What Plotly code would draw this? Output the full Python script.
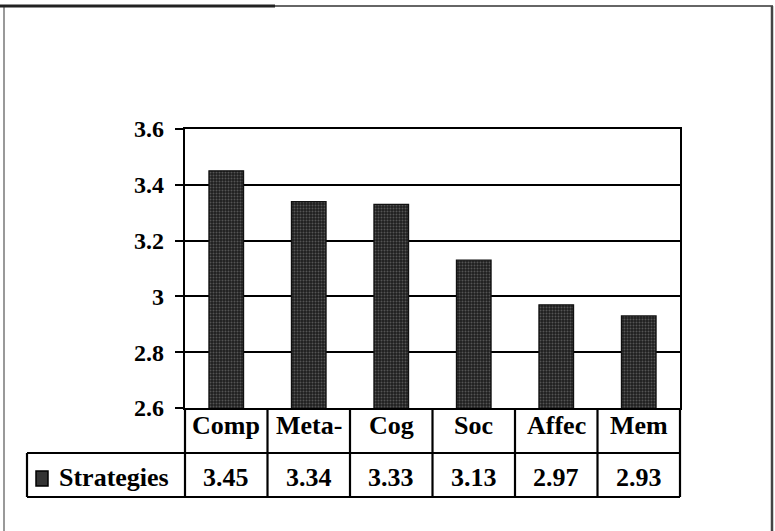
import plotly.graph_objects as go

# Mean strategy-use scores
categories = ["Comp", "Meta-", "Cog", "Soc", "Affec", "Mem"]
values = [3.45, 3.34, 3.33, 3.13, 2.97, 2.93]
series_name = "Strategies"
y_ticks = [2.6, 2.8, 3.0, 3.2, 3.4, 3.6]
y_tick_text = ["2.6", "2.8", "3", "3.2", "3.4", "3.6"]

W, H = 775, 531
# plot area in pixels
PL, PR, PT, PB = 185, 680, 129, 408
pw, ph = PR - PL, PB - PT


def px(x):
    return (x - PL) / pw


def py(y):
    return (PB - y) / ph


FONT = "Liberation Serif"
TXT = dict(family=FONT, size=26, color="black", weight="bold")
bar_fill = dict(color="#333333", line=dict(color="#111111", width=1.2),
                pattern=dict(shape=".", fgcolor="#8a8a8a", bgcolor="#1e1e1e",
                             size=3, solidity=0.35))

fig = go.Figure()
fig.add_trace(go.Bar(
    x=categories, y=values, name=series_name, width=0.42,
    marker=bar_fill, showlegend=False, hoverinfo="x+y",
))

shapes = []
annotations = []
n = len(categories)

# data table below the plot
header_bottom = py(453)
row_bottom = py(497)
row_left = px(27)
lw = 2.2
# vertical cell dividers at each category boundary
for i in range(n + 1):
    xb = i / n
    shapes.append(dict(type="line", xref="paper", yref="paper", x0=xb, x1=xb,
                       y0=row_bottom, y1=0, line=dict(color="black", width=lw)))
# horizontal rules
shapes.append(dict(type="line", xref="paper", yref="paper", x0=row_left, x1=1,
                   y0=header_bottom, y1=header_bottom, line=dict(color="black", width=lw)))
shapes.append(dict(type="line", xref="paper", yref="paper", x0=row_left, x1=1,
                   y0=row_bottom, y1=row_bottom, line=dict(color="black", width=lw)))
shapes.append(dict(type="line", xref="paper", yref="paper", x0=row_left, x1=row_left,
                   y0=row_bottom, y1=header_bottom, line=dict(color="black", width=lw)))
# legend key in the series row
shapes.append(dict(type="rect", xref="paper", yref="paper", x0=px(36), x1=px(48),
                   y0=py(486), y1=py(471), fillcolor="#333333",
                   line=dict(color="black", width=1.5)))

for cat, v in zip(categories, values):
    annotations.append(dict(x=cat, xref="x", y=py(425), yref="paper", text=cat,
                            showarrow=False, xanchor="center", yanchor="middle",
                            font=TXT))
    annotations.append(dict(x=cat, xref="x", y=py(477), yref="paper", text=f"{v:.2f}",
                            showarrow=False, xanchor="center", yanchor="middle",
                            font=TXT))
annotations.append(dict(x=px(57), xref="paper", y=py(477), yref="paper", text=series_name,
                        showarrow=False, xanchor="left", yanchor="middle",
                        font=TXT))

# outer chart frame
shapes += [
    dict(type="line", xref="paper", yref="paper", x0=px(4), x1=px(4), y0=py(531), y1=py(6),
         line=dict(color="#555555", width=1.2)),
    dict(type="line", xref="paper", yref="paper", x0=px(4), x1=px(773), y0=py(6), y1=py(6),
         line=dict(color="#333333", width=1.5)),
    dict(type="line", xref="paper", yref="paper", x0=px(0), x1=px(275), y0=py(6), y1=py(6),
         line=dict(color="#222222", width=3)),
    dict(type="line", xref="paper", yref="paper", x0=px(772), x1=px(772), y0=py(531), y1=py(6),
         line=dict(color="#444444", width=2.5)),
]

fig.update_layout(
    width=W, height=H,
    margin=dict(l=PL, r=W - PR, t=PT, b=H - PB, pad=0),
    paper_bgcolor="white", plot_bgcolor="white",
    shapes=shapes, annotations=annotations,
    font=dict(family=FONT, color="black"),
)
fig.update_xaxes(
    type="category", range=[-0.5, n - 0.5], showticklabels=False, ticks="",
    showgrid=False, showline=True, linecolor="black", linewidth=2.2, mirror=True,
    zeroline=False,
)
fig.update_yaxes(
    range=[2.6, 3.6], tickvals=y_ticks, ticktext=y_tick_text,
    showgrid=True, gridcolor="black", gridwidth=2.2,
    showline=True, linecolor="black", linewidth=2.2, mirror=True,
    ticks="outside", ticklen=8, tickwidth=2, tickcolor="black",
    tickfont=dict(family=FONT, size=24, color="black", weight="bold"),
    ticklabelstandoff=6,
    zeroline=False,
)

fig.write_html("out.html")
